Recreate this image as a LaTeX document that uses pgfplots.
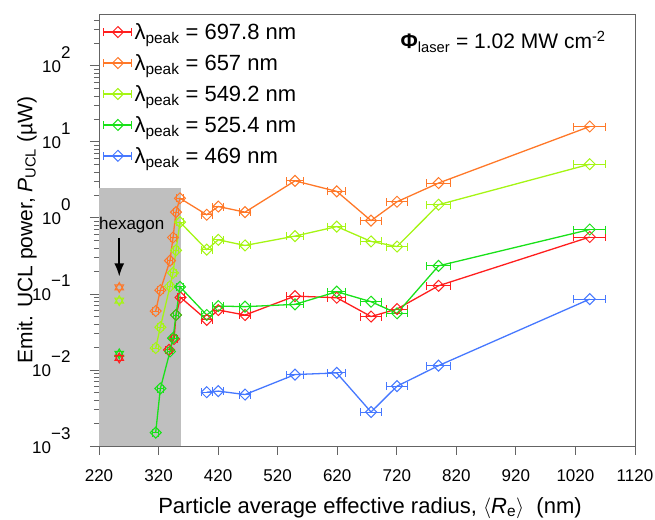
\documentclass[border=0pt]{standalone}
\usepackage{fontspec}
\setmainfont{Liberation Sans}
\usepackage{pgfplots}
\pgfplotsset{compat=1.18}
\usepackage{pgfplotstable}
\usetikzlibrary{arrows.meta}

\definecolor{cRed}{RGB}{255,30,30}
\definecolor{cOrange}{RGB}{255,120,40}
\definecolor{cLime}{RGB}{165,245,20}
\definecolor{cGreen}{RGB}{25,225,25}
\definecolor{cBlue}{RGB}{70,120,255}
\definecolor{frame}{RGB}{100,100,100}

% open diamond, as wide as tall
\pgfdeclareplotmark{dia}{%
  \pgfpathmoveto{\pgfqpoint{0pt}{\pgfplotmarksize}}%
  \pgfpathlineto{\pgfqpoint{\pgfplotmarksize}{0pt}}%
  \pgfpathlineto{\pgfqpoint{0pt}{-\pgfplotmarksize}}%
  \pgfpathlineto{\pgfqpoint{-\pgfplotmarksize}{0pt}}%
  \pgfpathclose\pgfusepathqstroke}
% six-pointed star for the hexagon samples
\pgfdeclareplotmark{hexa}{%
  \pgfpathmoveto{\pgfqpointpolar{90}{\pgfplotmarksize}}%
  \pgfpathlineto{\pgfqpointpolar{210}{\pgfplotmarksize}}%
  \pgfpathlineto{\pgfqpointpolar{330}{\pgfplotmarksize}}%
  \pgfpathclose
  \pgfpathmoveto{\pgfqpointpolar{270}{\pgfplotmarksize}}%
  \pgfpathlineto{\pgfqpointpolar{30}{\pgfplotmarksize}}%
  \pgfpathlineto{\pgfqpointpolar{150}{\pgfplotmarksize}}%
  \pgfpathclose\pgfusepathqstroke}

\newcommand\tenexp[1]{10\raisebox{14pt}{#1}}

\pgfplotstableread{
x y ex
337.5 0.0184 5
346 0.0256 5
349.3 0.0528 5
357 0.090 6
400.9 0.0455 9
420.3 0.0614 9
465.2 0.0528 10
549.1 0.0936 15
619.2 0.0891 15
676.8 0.0504 17
720.4 0.0633 17
790.1 0.128 20
1044 0.56 27
}\tRed
\pgfplotstableread{
x y ex
315.2 0.0596 5
323 0.112 5
339.2 0.274 5
344.3 0.552 5
349.3 1.19 5
356 1.81 6
400.9 1.10 9
420.3 1.41 9
465.2 1.19 10
549.1 3.07 15
619.2 2.23 15
676.8 0.92 17
720.4 1.63 17
790.1 2.87 20
1044 15.9 27
}\tOrange
\pgfplotstableread{
x y ex
315.2 0.0194 5
323 0.0365 5
339.2 0.126 5
344.3 0.189 5
349.3 0.374 5
356 0.879 6
400.9 0.382 9
420.3 0.515 9
465.2 0.434 10
549.1 0.576 15
619.2 0.769 15
676.8 0.49 17
720.4 0.42 17
790.1 1.49 20
1044 5.08 27
}\tLime
\pgfplotstableread{
x y ex
315.2 0.0015 5
323 0.0057 5
339.2 0.0175 5
344.3 0.0262 5
349.3 0.0528 5
356 0.124 6
400.9 0.0528 9
420.3 0.0693 9
465.2 0.068 10
549.1 0.0729 15
619.2 0.107 15
676.8 0.079 17
720.4 0.0556 17
790.1 0.234 20
1044 0.703 27
}\tGreen
\pgfplotstableread{
x y ex
400.9 0.0051 9
420.3 0.00527 9
465.2 0.00475 10
549.1 0.0087 15
619.2 0.00914 15
676.8 0.0028 17
720.4 0.00612 17
790.1 0.0114 20
1044 0.0855 27
}\tBlue

\begin{document}
\begin{tikzpicture}
\begin{axis}[
  scale only axis, width=536pt, height=432pt,
  xmin=220, xmax=1120,
  ymode=log, ymin=1e-3, ymax=480,
  axis line style={frame, line width=0.8pt},
  tick style={frame, line width=0.8pt},
  tick align=outside, tick pos=left,
  major tick length=9pt, minor tick length=5pt,
  xtick={220,320,420,520,620,720,820,920,1020,1120},
  xticklabels={220,320,420,520,620,720,820,920,1020,1120},
  ytick={1e-3,1e-2,1e-1,1,10,100},
  yticklabels={\tenexp{−3},\tenexp{−2},\tenexp{−1},\tenexp{0},\tenexp{1},\tenexp{2}},
  minor ytick={0.002,0.003,0.004,0.005,0.006,0.007,0.008,0.009,
    0.02,0.03,0.04,0.05,0.06,0.07,0.08,0.09,
    0.2,0.3,0.4,0.5,0.6,0.7,0.8,0.9,
    2,3,4,5,6,7,8,9,20,30,40,50,60,70,80,90,200,300,400},
  ticklabel style={font=\fontsize{17}{20}\selectfont},
  xticklabel style={anchor=base, yshift=-27pt},
  yticklabel style={anchor=base east, yshift=-7pt, xshift=-16pt},
  xlabel={Particle average effective radius, $\langle$\textit{R}\textsubscript{e}$\rangle$\ \ (nm)},
  ylabel={Emit. UCL power, \textit{P}\textsubscript{UCL} (µW)},
  xlabel style={font=\fontsize{22}{25}\selectfont, at={(axis description cs:0.5056,-0.1435)}, anchor=center},
  ylabel style={font=\fontsize{21}{24}\selectfont, at={(axis description cs:-0.1343,0.5)}, anchor=center},
  legend style={at={(axis description cs:0.002,0.988)}, anchor=north west,
    draw=none, fill=none, font=\fontsize{22}{25}\selectfont, row sep=9.5pt},
  legend cell align=left,
  legend image code/.code={
    \draw[mark repeat=2, mark phase=2] plot coordinates {(0pt,0pt) (14pt,0pt) (28pt,0pt)};
    \draw[line width=1pt] (0pt,-4pt) -- (0pt,4pt) (28pt,-4pt) -- (28pt,4pt);
  },
  every axis plot/.append style={line width=1.3pt, mark=dia, mark size=5.5pt,
    mark options={solid, line width=1pt}},
  error bars/error bar style={line width=1pt},
  error bars/error mark options={rotate=90, mark size=4pt, line width=1pt},
]
\fill[black!25] (axis cs:220,1e-3) rectangle (axis cs:357,2.5);

\addplot[cRed, error bars/.cd, x dir=both, x explicit] table[x=x, y=y, x error=ex] {\tRed};
\addlegendentry{λ\textsubscript{peak} = 697.8 nm}
\addplot[cOrange, error bars/.cd, x dir=both, x explicit] table[x=x, y=y, x error=ex] {\tOrange};
\addlegendentry{λ\textsubscript{peak} = 657 nm}
\addplot[cLime, error bars/.cd, x dir=both, x explicit] table[x=x, y=y, x error=ex] {\tLime};
\addlegendentry{λ\textsubscript{peak} = 549.2 nm}
\addplot[cGreen, error bars/.cd, x dir=both, x explicit] table[x=x, y=y, x error=ex] {\tGreen};
\addlegendentry{λ\textsubscript{peak} = 525.4 nm}
\addplot[cBlue, error bars/.cd, x dir=both, x explicit] table[x=x, y=y, x error=ex] {\tBlue};
\addlegendentry{λ\textsubscript{peak} = 469 nm}

% hexagon samples
\addplot[cOrange, only marks, mark=hexa, mark size=5pt, forget plot] coordinates {(254,0.1216)};
\addplot[cLime, only marks, mark=hexa, mark size=5pt, forget plot] coordinates {(254,0.0815)};
\addplot[cGreen, only marks, mark=hexa, mark size=5pt, forget plot] coordinates {(254,0.0163)};
\addplot[cRed, only marks, mark=hexa, mark size=5pt, forget plot] coordinates {(254,0.0144)};

\node[font=\fontsize{17}{20}\selectfont] at (axis cs:275,0.80) {hexagon};
\draw[-{Latex[length=13pt,width=10pt]}, line width=1.6pt] (axis cs:254,0.55) -- (axis cs:254,0.17);

\node[font=\fontsize{21}{24}\selectfont] at (rel axis cs:0.754,0.936)
  {{\bfseries Φ}\textsubscript{laser} = 1.02 MW cm\textsuperscript{-2}};

\coordinate (SW) at (rel axis cs:0,0);
\coordinate (NE) at (rel axis cs:1,1);
\end{axis}
\pgfresetboundingbox
\path[use as bounding box] ([xshift=-99pt,yshift=-73pt]SW) rectangle ([xshift=20pt,yshift=14pt]NE);
\end{tikzpicture}
\end{document}
